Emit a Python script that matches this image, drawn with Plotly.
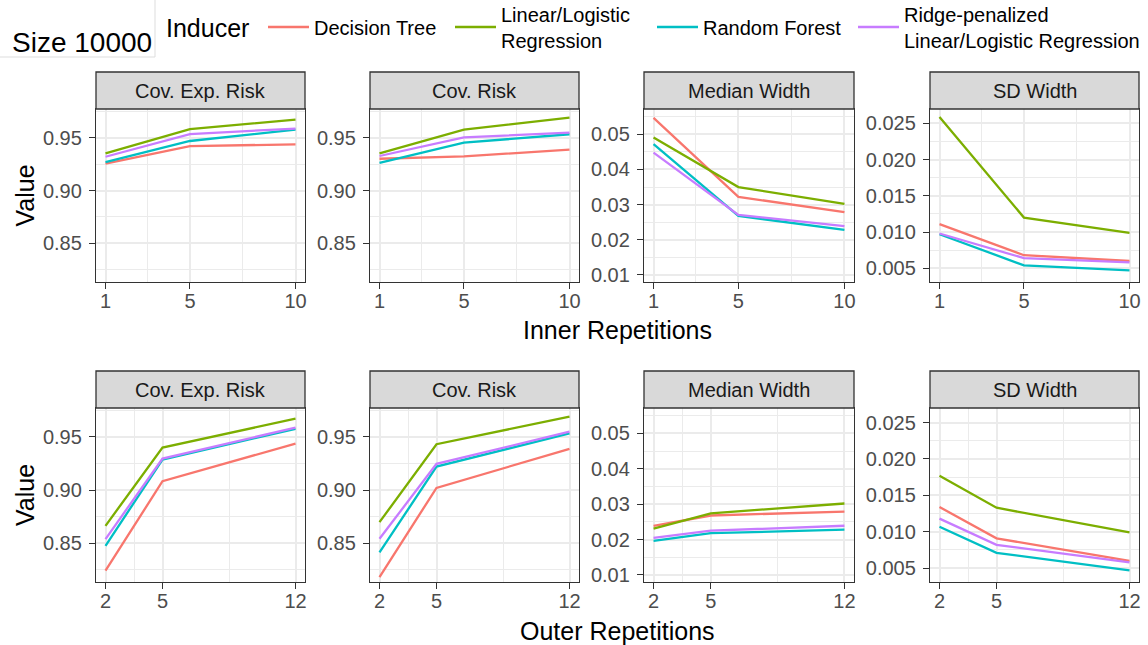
import plotly.graph_objects as go

W, H = 1148, 645

# ---- data -------------------------------------------------------------
inner_reps = [1, 5, 10]
outer_reps = [2, 5, 12]

inducers = [
    "Decision Tree",
    "Linear/Logistic<br>Regression",
    "Random Forest",
    "Ridge-penalized<br>Linear/Logistic Regression",
]
colors = ["#F8766D", "#7CAE00", "#00BFC4", "#C77CFF"]

metrics = ["Cov. Exp. Risk", "Cov. Risk", "Median Width", "SD Width"]

# rows: Decision Tree, Linear/Logistic, Random Forest, Ridge
cov_exp_risk_inner = [
    [0.9254, 0.9421, 0.9437],
    [0.9352, 0.9582, 0.9672],
    [0.9270, 0.9469, 0.9576],
    [0.9320, 0.9535, 0.9587],
]
cov_risk_inner = [
    [0.9301, 0.9324, 0.9387],
    [0.9352, 0.9576, 0.9690],
    [0.9263, 0.9453, 0.9533],
    [0.9327, 0.9503, 0.9549],
]
median_width_inner = [
    [0.0547, 0.0322, 0.0279],
    [0.0491, 0.0350, 0.0302],
    [0.0472, 0.0268, 0.0228],
    [0.0448, 0.0271, 0.0239],
]
sd_width_inner = [
    [0.0111, 0.0068, 0.0060],
    [0.0259, 0.0120, 0.0099],
    [0.0097, 0.0054, 0.0047],
    [0.0098, 0.0064, 0.0058],
]

cov_exp_risk_outer = [
    [0.8240, 0.9083, 0.9437],
    [0.8663, 0.9400, 0.9672],
    [0.8475, 0.9287, 0.9576],
    [0.8538, 0.9296, 0.9587],
]
cov_risk_outer = [
    [0.8180, 0.9020, 0.9387],
    [0.8697, 0.9431, 0.9690],
    [0.8412, 0.9221, 0.9533],
    [0.8541, 0.9246, 0.9549],
]
median_width_outer = [
    [0.0239, 0.0268, 0.0279],
    [0.0231, 0.0274, 0.0302],
    [0.0196, 0.0218, 0.0228],
    [0.0205, 0.0225, 0.0239],
]
sd_width_outer = [
    [0.0134, 0.0091, 0.0060],
    [0.0177, 0.0133, 0.0099],
    [0.0107, 0.0071, 0.0047],
    [0.0118, 0.0082, 0.0058],
]

inner_ticks = [1, 5, 10]
outer_ticks = [2, 5, 12]
cov_ticks = [0.85, 0.90, 0.95]
cov_labels = ["0.85", "0.90", "0.95"]
median_ticks = [0.01, 0.02, 0.03, 0.04, 0.05]
median_labels = ["0.01", "0.02", "0.03", "0.04", "0.05"]
sd_ticks = [0.005, 0.010, 0.015, 0.020, 0.025]
sd_labels = ["0.005", "0.010", "0.015", "0.020", "0.025"]

# ---- layout geometry (pixels) ------------------------------------------
FONT = "Liberation Sans, Arial, sans-serif"
col_px = [(96, 305), (370, 579), (644, 854), (930, 1139)]
row_px = [(109, 282), (408, 582)]
STRIP_H = 37

rows = [
    dict(reps=inner_reps, ticks=inner_ticks, xrange=[0.55, 10.45], minor=[3, 7.5],
         data=[cov_exp_risk_inner, cov_risk_inner, median_width_inner, sd_width_inner]),
    dict(reps=outer_reps, ticks=outer_ticks, xrange=[1.5, 12.5], minor=[3.5, 8.5],
         data=[cov_exp_risk_outer, cov_risk_outer, median_width_outer, sd_width_outer]),
]
ycfg = [
    dict(range=[0.8134, 0.9772], ticks=cov_ticks, labels=cov_labels,
         minor=[0.825, 0.875, 0.925, 0.975]),
    dict(range=[0.8134, 0.9772], ticks=cov_ticks, labels=cov_labels,
         minor=[0.825, 0.875, 0.925, 0.975]),
    dict(range=[0.0080, 0.0572], ticks=median_ticks, labels=median_labels,
         minor=[0.015, 0.025, 0.035, 0.045, 0.055]),
    dict(range=[0.0031, 0.0270], ticks=sd_ticks, labels=sd_labels,
         minor=[0.0075, 0.0125, 0.0175, 0.0225]),
]

legend_ids = ["legend", "legend2", "legend3", "legend4"]
legend_x_px = [263, 450, 652, 853]


def fx(p):
    return p / W


def fy(p):
    return 1 - p / H


fig = go.Figure()
layout = {}
shapes = []
annotations = []

AX = dict(
    showline=True, mirror=True, linecolor="#333333", linewidth=1.3,
    ticks="outside", ticklen=6, tickwidth=1.1, tickcolor="#333333",
    showgrid=True, gridcolor="#EBEBEB", gridwidth=2.2, zeroline=False,
    tickfont=dict(family=FONT, size=20, color="#4D4D4D"),
    fixedrange=True,
)

for r, row in enumerate(rows):
    top, bottom = row_px[r]
    for c in range(4):
        i = r * 4 + c + 1
        sfx = "" if i == 1 else str(i)
        left, right = col_px[c]
        yc = ycfg[c]

        layout["xaxis" + sfx] = dict(
            AX, domain=[fx(left), fx(right)], anchor="y" + sfx,
            range=row["xrange"], tickvals=row["ticks"],
            ticktext=[str(t) for t in row["ticks"]],
            ticklabelstandoff=-5,
            minor=dict(tickvals=row["minor"], showgrid=True,
                       gridcolor="#EBEBEB", gridwidth=1.1, ticks=""),
        )
        layout["yaxis" + sfx] = dict(
            AX, domain=[fy(bottom), fy(top)], anchor="x" + sfx,
            range=yc["range"], tickvals=yc["ticks"], ticktext=yc["labels"],
            ticklabelstandoff=3,
            minor=dict(tickvals=yc["minor"], showgrid=True,
                       gridcolor="#EBEBEB", gridwidth=1.1, ticks=""),
        )

        for k, name in enumerate(inducers):
            fig.add_trace(go.Scatter(
                x=row["reps"], y=row["data"][c][k], mode="lines",
                line=dict(color=colors[k], width=2.3),
                name=name, xaxis="x" + sfx, yaxis="y" + sfx,
                showlegend=(i == 1), legend=legend_ids[k],
                hoverinfo="skip",
            ))

        # facet strip
        shapes.append(dict(
            type="rect", xref="paper", yref="paper",
            x0=fx(left), x1=fx(right), y0=fy(top), y1=fy(top - STRIP_H),
            fillcolor="#D9D9D9", line=dict(color="#333333", width=1.3),
            layer="above",
        ))
        annotations.append(dict(
            text=metrics[c], xref="paper", yref="paper",
            x=fx((left + right) / 2), y=fy(top - STRIP_H / 2),
            xanchor="center", yanchor="middle", showarrow=False,
            font=dict(family=FONT, size=20, color="#1A1A1A"),
        ))

    # y-axis title per row
    annotations.append(dict(
        text="Value", xref="paper", yref="paper",
        x=fx(25), y=fy((top + bottom) / 2), textangle=-90,
        xanchor="center", yanchor="middle", showarrow=False,
        font=dict(family=FONT, size=25, color="#000000"),
    ))

# x-axis titles
for txt, ypx in [("Inner Repetitions", 330), ("Outer Repetitions", 631)]:
    annotations.append(dict(
        text=txt, xref="paper", yref="paper",
        x=fx((col_px[0][0] + col_px[3][1]) / 2), y=fy(ypx),
        xanchor="center", yanchor="middle", showarrow=False,
        font=dict(family=FONT, size=25, color="#000000"),
    ))

# overall title with its frame
annotations.append(dict(
    text="Size 10000", xref="paper", yref="paper",
    x=fx(10), y=fy(42), xanchor="left", yanchor="middle", showarrow=False,
    font=dict(family=FONT, size=28, color="#000000"),
))
shapes.append(dict(type="line", xref="paper", yref="paper",
                   x0=fx(155), x1=fx(155), y0=fy(0), y1=fy(57),
                   line=dict(color="#DDDDDD", width=1)))
shapes.append(dict(type="line", xref="paper", yref="paper",
                   x0=fx(0), x1=fx(155), y0=fy(57), y1=fy(57),
                   line=dict(color="#DDDDDD", width=1)))

# legend title
annotations.append(dict(
    text="Inducer", xref="paper", yref="paper",
    x=fx(164), y=fy(28), xanchor="left", yanchor="middle", showarrow=False,
    font=dict(family=FONT, size=25, color="#000000"),
))

# legends, one entry each
leg_common = dict(
    orientation="h", yanchor="middle", y=fy(27), xanchor="left",
    font=dict(family=FONT, size=20, color="#000000"),
    bgcolor="rgba(0,0,0,0)", borderwidth=0, itemwidth=41,
)
for lid, lx in zip(legend_ids, legend_x_px):
    layout[lid] = dict(leg_common, x=fx(lx))

fig.update_layout(
    **layout,
    width=W, height=H, autosize=False,
    margin=dict(l=0, r=0, t=0, b=0, autoexpand=False),
    paper_bgcolor="#FFFFFF", plot_bgcolor="#FFFFFF",
    font=dict(family=FONT),
    shapes=shapes, annotations=annotations,
)

fig.write_html("out.html")
